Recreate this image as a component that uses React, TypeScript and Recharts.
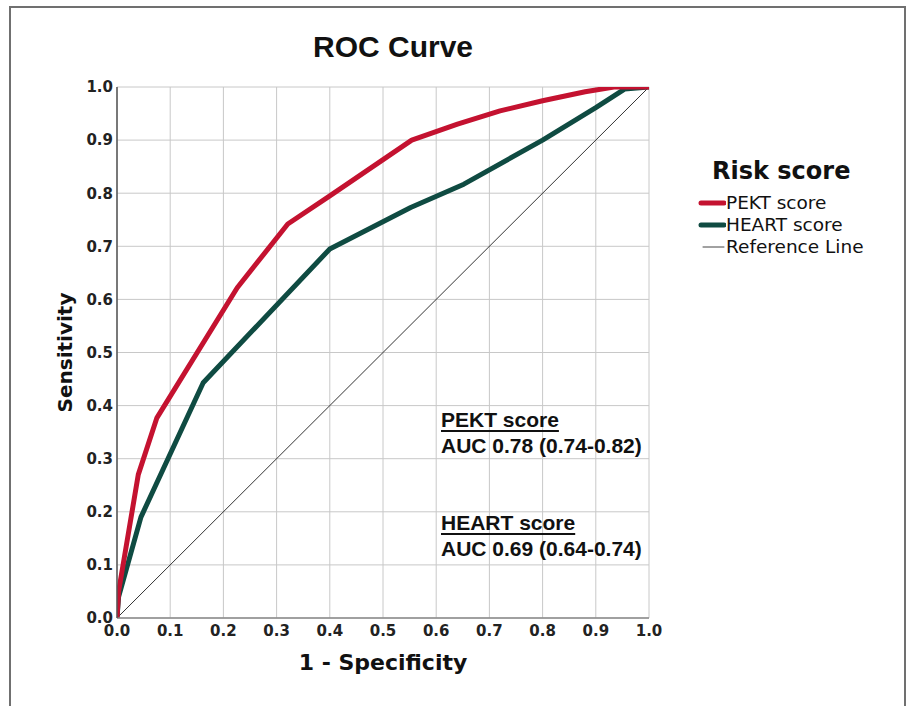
import React from 'react'
import {
  LineChart,
  Line,
  XAxis,
  YAxis,
  CartesianGrid,
  Legend,
  Label,
} from 'recharts'

// ROC points: [1 - specificity, sensitivity]
const pektX = [0, 0.003, 0.04, 0.075, 0.226, 0.321, 0.4, 0.554, 0.64, 0.72, 0.8, 0.88, 0.934, 1]
const pektY = [0, 0.05, 0.27, 0.377, 0.622, 0.742, 0.795, 0.9, 0.93, 0.955, 0.974, 0.991, 1, 1]
const heartX = [0, 0.003, 0.045, 0.162, 0.4, 0.552, 0.652, 0.8, 0.9, 0.954, 1]
const heartY = [0, 0.04, 0.19, 0.443, 0.695, 0.773, 0.817, 0.9, 0.961, 0.996, 1]
const refX = [0, 1]
const refY = [0, 1]

const ticks = [0, 0.1, 0.2, 0.3, 0.4, 0.5, 0.6, 0.7, 0.8, 0.9, 1]

const pekt = pektX.map((x, i) => ({ x, y: pektY[i] }))
const heart = heartX.map((x, i) => ({ x, y: heartY[i] }))
const ref = refX.map((x, i) => ({ x, y: refY[i] }))

const RED = '#c41230'
const GREEN = '#0f4b42'

const legendItems = [
  { value: 'PEKT score', color: RED, w: 5 },
  { value: 'HEART score', color: GREEN, w: 5 },
  { value: 'Reference Line', color: '#444', w: 1 },
]

const annotations = [
  { title: 'PEKT score', auc: 'AUC 0.78 (0.74-0.82)', top: 407 },
  { title: 'HEART score', auc: 'AUC 0.69 (0.64-0.74)', top: 510 },
]

const renderLegend = () => (
  <div style={{ fontFamily: 'DejaVu Sans', color: '#111' }}>
    <div style={{ fontWeight: 'bold', fontSize: 24, marginLeft: 15, lineHeight: '34px', marginBottom: 4 }}>
      Risk score
    </div>
    {legendItems.map((item) => (
      <div
        key={item.value}
        style={{ display: 'flex', alignItems: 'center', fontSize: 18.5, lineHeight: '22px' }}
      >
        <svg width={29} height={10}>
          <line
            x1={item.w > 1 ? 4 : 6}
            x2={27}
            y1={5}
            y2={5}
            stroke={item.color}
            strokeWidth={item.w}
            strokeLinecap="round"
          />
        </svg>
        <span>{item.value}</span>
      </div>
    ))}
  </div>
)

const tickStyle = { fontFamily: 'DejaVu Sans', fontWeight: 'bold', fontSize: 15, fill: '#222' }

export default function App() {
  return (
    <div
      style={{
        position: 'absolute',
        left: 0,
        top: 0,
        width: 911,
        height: 706,
        overflow: 'hidden',
        background: '#fff',
      }}
    >
      <div
        style={{
          position: 'absolute',
          left: 9,
          top: 6,
          width: 897,
          height: 760,
          border: '2px solid #707070',
          boxSizing: 'border-box',
        }}
      />
      <div
        style={{
          position: 'absolute',
          left: 243,
          top: 30,
          width: 300,
          textAlign: 'center',
          fontFamily: 'Liberation Sans',
          fontWeight: 'bold',
          fontSize: 30,
          color: '#111',
        }}
      >
        ROC Curve
      </div>
      <LineChart
        width={911}
        height={706}
        margin={{ top: 87, right: 262, bottom: 58, left: 57 }}
        style={{ position: 'absolute', left: 0, top: 0 }}
      >
        <CartesianGrid stroke="#c8c8c8" strokeWidth={1} />
        <XAxis
          type="number"
          dataKey="x"
          domain={[0, 1]}
          ticks={ticks}
          allowDataOverflow
          height={30}
          tickSize={5}
          tickLine={false}
          axisLine={{ stroke: '#8a8a8a', strokeWidth: 1.5 }}
          tick={tickStyle}
          tickFormatter={(v: number) => v.toFixed(1)}
        >
          <Label
            value="1 - Specificity"
            position="bottom"
            offset={6}
            style={{ fontFamily: 'DejaVu Sans', fontWeight: 'bold', fontSize: 22, fill: '#111' }}
          />
        </XAxis>
        <YAxis
          type="number"
          dataKey="y"
          domain={[0, 1]}
          ticks={ticks}
          allowDataOverflow
          width={60}
          tickSize={2}
          tickLine={false}
          axisLine={{ stroke: '#555', strokeWidth: 1.5 }}
          tick={tickStyle}
          tickFormatter={(v: number) => v.toFixed(1)}
        >
          <Label
            content={(props: any) => {
              const vb = props.viewBox || {}
              const cx = vb.x + 8
              const cy = vb.y + vb.height / 2
              return (
                <text
                  x={cx}
                  y={cy}
                  transform={`rotate(-90 ${cx} ${cy})`}
                  textAnchor="middle"
                  dominantBaseline="central"
                  style={{ fontFamily: 'DejaVu Sans', fontWeight: 'bold', fontSize: 20, fill: '#111' }}
                >
                  Sensitivity
                </text>
              )
            }}
          />
        </YAxis>
        <Legend
          layout="vertical"
          align="center"
          verticalAlign="middle"
          content={renderLegend}
          wrapperStyle={{ left: 697, top: 154, width: 205 }}
        />
        <Line
          data={ref}
          dataKey="y"
          type="linear"
          stroke="#333"
          strokeWidth={1}
          dot={false}
          isAnimationActive={false}
        />
        <Line
          data={heart}
          dataKey="y"
          type="linear"
          stroke={GREEN}
          strokeWidth={5}
          strokeLinejoin="round"
          dot={false}
          isAnimationActive={false}
        />
        <Line
          data={pekt}
          dataKey="y"
          type="linear"
          stroke={RED}
          strokeWidth={5}
          strokeLinejoin="round"
          dot={false}
          isAnimationActive={false}
        />
      </LineChart>
      {annotations.map((a) => (
        <div
          key={a.title}
          style={{
            position: 'absolute',
            left: 441,
            top: a.top,
            fontFamily: 'Liberation Sans',
            fontWeight: 'bold',
            fontSize: 21,
            lineHeight: '26px',
            color: '#111',
          }}
        >
          <div style={{ textDecoration: 'underline', textDecorationThickness: 2, textUnderlineOffset: 3 }}>
            {a.title}
          </div>
          <div>{a.auc}</div>
        </div>
      ))}
    </div>
  )
}
